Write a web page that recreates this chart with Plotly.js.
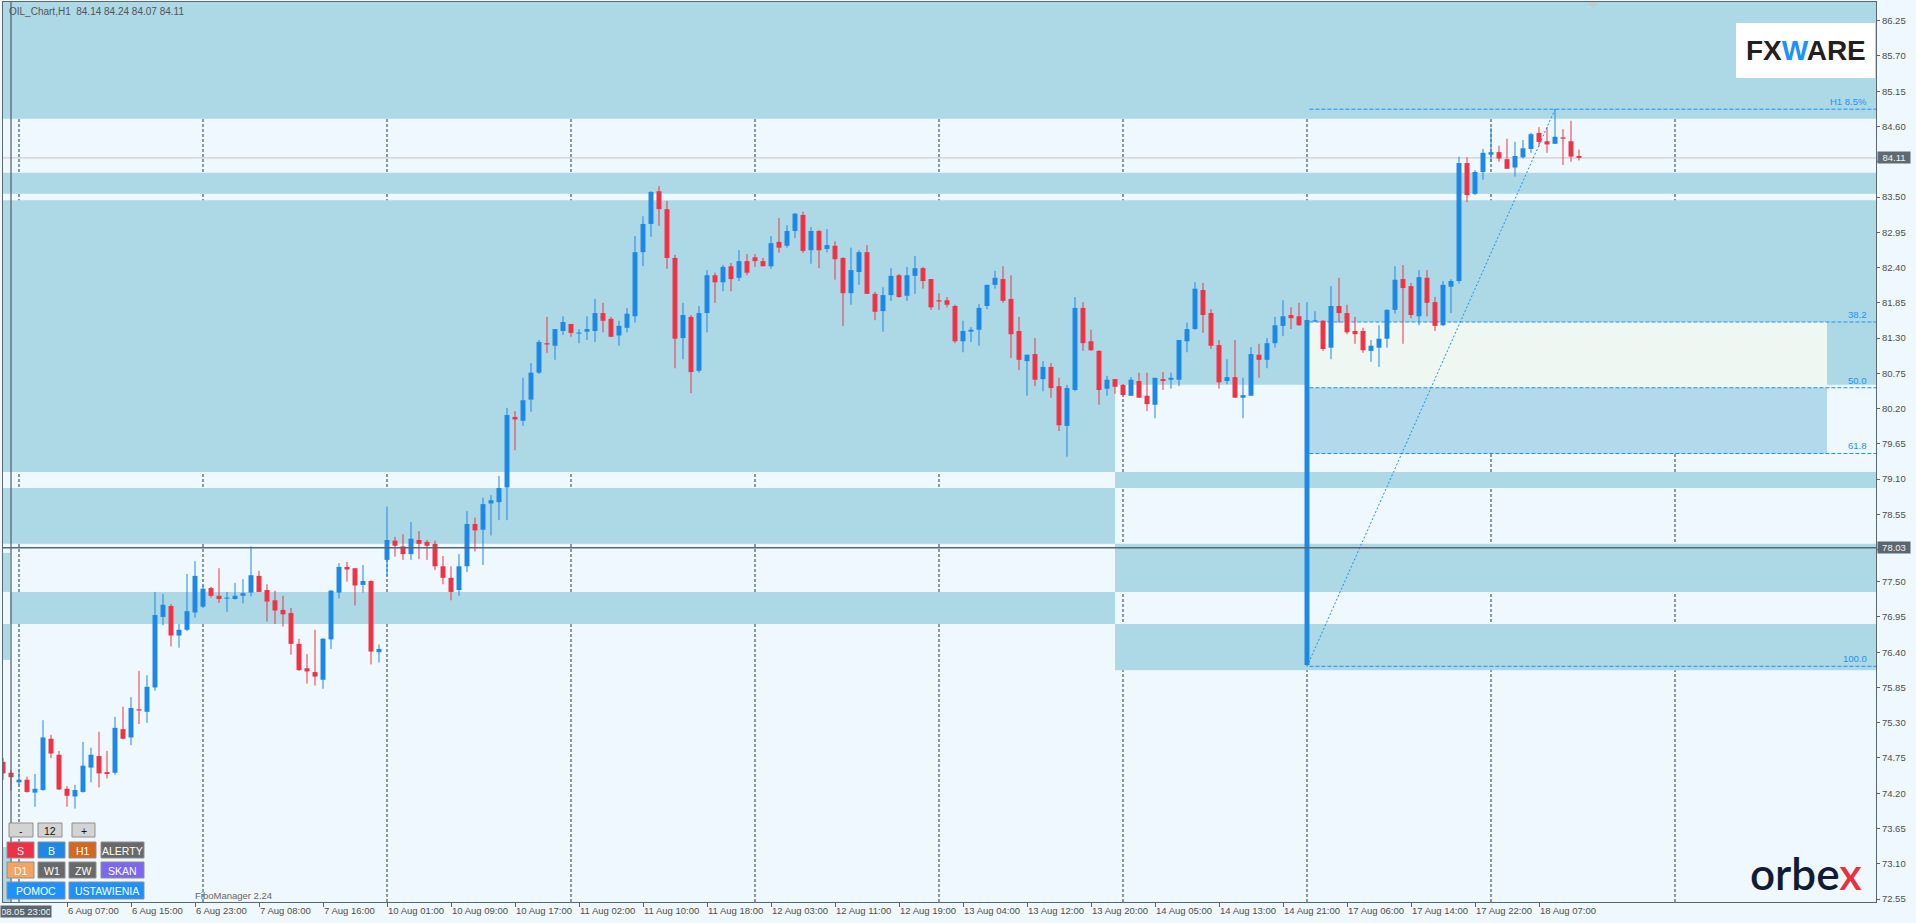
<!DOCTYPE html>
<html>
<head>
<meta charset="utf-8">
<script src="https://cdn.plot.ly/plotly-3.0.1.min.js"></script>
<style>
html,body{margin:0;padding:0;background:#F0F8FF;overflow:hidden;}
#chart{width:1916px;height:923px;}
</style>
</head>
<body>
<div id="chart"></div>
<script>
// ---------------- DATA: OIL H1 candles, bar numbers -1 .. 196 (bar 0 = 5 Aug 23:00) ----------------
const openP = [
74.69,74.52,74.37,74.41,74.21,74.25,75.05,74.80,74.27,74.15,
74.22,74.60,74.78,74.53,74.52,75.20,75.07,75.51,75.47,75.85,
76.95,77.12,76.66,76.75,77.02,77.11,77.40,77.28,77.235,77.23,
77.28,77.33,77.59,77.37,77.21,77.06,77.01,76.53,76.15,76.09,
75.97,76.60,77.33,77.73,77.71,77.45,77.51,76.40,77.84,78.14,
78.05,77.93,78.15,78.12,78.09,77.74,77.56,77.37,77.74,78.40,
78.31,78.72,78.74,78.97,80.07,80.01,80.34,80.76,81.22,81.18,
81.41,81.52,81.37,81.40,81.41,81.69,81.60,81.34,81.46,81.64,
82.64,83.08,83.59,83.31,82.55,81.30,81.63,80.79,81.69,82.28,
82.17,82.42,82.24,82.50,82.56,82.50,82.42,82.80,82.74,82.97,
83.22,82.67,82.97,82.69,82.74,82.55,82.00,82.33,82.64,81.99,
81.72,81.97,82.28,81.96,82.27,82.39,82.22,81.89,81.89,81.80,
81.25,81.40,81.43,81.80,82.13,82.22,81.91,81.41,80.94,81.05,
80.66,80.85,80.55,79.93,80.49,81.77,81.25,81.10,80.51,80.66,
80.57,80.40,80.63,80.40,80.26,80.66,80.65,80.65,81.25,81.44,
82.05,81.69,81.19,80.63,80.69,80.37,80.40,81.04,80.96,81.22,
81.49,81.66,81.64,76.20,81.56,81.57,81.15,81.80,81.69,81.41,
81.41,81.10,81.15,81.29,81.74,82.22,82.11,81.64,82.24,81.86,
81.50,82.10,82.19,84.03,83.55,83.89,84.16,84.20,84.09,83.96,
84.12,84.25,84.50,84.37,84.33,84.43,84.37,84.14];
const highP = [
74.75,74.56,74.56,74.46,74.50,75.34,75.11,74.86,74.31,74.33,
75.00,74.91,75.16,74.86,75.39,75.55,75.70,76.11,76.04,77.34,
77.31,77.15,76.84,77.62,77.82,77.45,77.42,77.71,77.34,77.48,
77.54,78.05,77.67,77.46,77.36,77.28,77.09,76.61,76.37,76.75,
76.62,77.37,77.79,77.81,77.71,77.76,77.52,76.52,78.67,78.20,
78.24,78.43,78.29,78.15,78.14,77.90,77.74,77.93,78.60,78.50,
78.81,78.85,79.15,80.21,80.16,80.68,80.91,81.27,81.63,81.44,
81.64,81.52,81.44,81.64,81.91,81.85,81.63,81.57,81.77,82.89,
83.20,83.59,83.67,83.44,82.60,81.85,81.66,81.80,82.36,82.32,
82.44,82.47,82.67,82.61,82.61,82.55,82.89,83.17,83.06,83.25,
83.27,83.03,82.99,83.00,82.81,82.56,82.71,82.67,82.75,82.02,
82.09,82.39,82.30,82.41,82.58,82.41,82.22,82.00,81.94,81.82,
81.57,81.47,81.83,82.13,82.35,82.42,82.28,81.63,81.04,81.30,
80.94,80.91,80.68,80.57,81.94,81.86,81.43,81.11,80.71,80.66,
80.58,80.69,80.76,80.76,80.68,80.77,80.76,81.27,81.54,82.17,
82.16,81.75,81.27,80.97,81.27,80.68,81.16,81.21,81.30,81.63,
81.89,81.78,81.85,81.86,81.72,81.58,82.11,82.24,81.82,81.63,
81.46,81.27,81.50,81.75,82.42,82.44,82.16,82.36,82.36,81.94,
82.19,82.22,84.13,84.12,83.92,84.25,84.58,84.30,84.41,84.36,
84.39,84.50,84.59,84.59,84.87,84.56,84.69,84.24];
const lowP = [
74.41,74.24,74.33,74.21,73.99,74.24,74.75,74.25,73.99,73.96,
74.21,74.37,74.29,74.43,74.49,75.04,74.95,75.28,75.30,75.80,
76.82,76.49,76.47,76.73,76.94,77.09,77.25,77.17,77.03,77.22,
77.16,77.27,77.34,76.88,76.84,76.80,76.36,76.11,75.91,75.88,
75.83,76.45,77.24,77.50,77.13,77.33,76.21,76.24,77.59,77.89,
77.84,77.84,77.85,77.84,77.68,77.46,77.21,77.28,77.65,77.97,
77.76,78.22,78.46,78.46,79.55,79.93,80.15,80.74,81.07,80.96,
81.35,81.32,81.22,81.27,81.24,81.39,81.32,81.18,81.39,81.54,
82.42,82.88,83.05,82.38,80.83,80.97,80.44,80.76,81.39,81.85,
82.03,82.03,82.19,82.28,82.41,82.42,82.38,82.63,82.71,82.86,
82.63,82.46,82.39,82.64,82.21,81.49,81.82,82.13,81.99,81.58,
81.40,81.88,81.93,81.88,81.99,82.07,81.74,81.74,81.78,81.22,
81.08,81.24,81.18,81.75,82.07,81.85,80.99,80.80,80.40,80.55,
80.47,80.37,79.85,79.45,80.47,81.10,81.10,80.26,80.40,80.43,
80.41,80.40,80.37,80.16,80.05,80.49,80.51,80.55,81.08,81.43,
81.38,81.13,80.51,80.58,80.37,80.05,80.40,80.68,80.83,81.15,
81.33,81.44,81.49,76.18,81.55,81.10,80.97,81.54,81.36,81.21,
81.07,80.93,80.85,81.15,81.68,81.21,81.61,81.50,81.64,81.41,
81.49,81.69,82.15,83.42,83.53,83.77,84.05,84.05,83.94,83.82,
84.10,84.19,84.29,84.19,84.33,84.00,84.05,84.07];
const closeP = [
74.51,74.45,74.41,74.22,74.27,75.07,74.82,74.26,74.16,74.25,
74.63,74.80,74.51,74.50,75.22,75.05,75.53,75.49,75.86,76.98,
77.14,76.66,76.75,77.04,77.59,77.39,77.28,77.23,77.245,77.28,
77.32,77.60,77.34,77.19,77.05,76.99,76.53,76.12,76.10,76.02,
76.61,77.36,77.73,77.69,77.44,77.51,76.41,76.45,78.15,78.06,
77.93,78.17,78.09,78.06,77.74,77.56,77.34,77.74,78.40,78.30,
78.71,78.77,78.96,80.10,80.03,80.33,80.76,81.24,81.20,81.44,
81.55,81.38,81.38,81.44,81.69,81.57,81.32,81.49,81.68,82.64,
83.08,83.58,83.31,82.55,81.29,81.66,80.77,81.69,82.28,82.17,
82.41,82.22,82.50,82.32,82.50,82.42,82.78,82.71,82.97,83.24,
82.66,82.97,82.67,82.75,82.53,82.00,82.36,82.64,81.99,81.71,
81.97,82.27,81.94,82.28,82.39,82.19,81.78,81.87,81.82,81.25,
81.41,81.43,81.77,82.13,82.24,81.88,81.36,80.96,81.04,80.65,
80.85,80.52,79.94,80.52,81.77,81.22,81.11,80.49,80.65,80.54,
80.41,80.65,80.37,80.27,80.68,80.63,80.68,81.27,81.44,82.07,
81.66,81.18,80.61,80.69,80.37,80.41,81.05,80.96,81.22,81.50,
81.64,81.61,81.50,81.58,81.57,81.13,81.80,81.69,81.39,81.36,
81.11,81.18,81.29,81.74,82.21,82.08,81.66,82.25,81.85,81.49,
82.13,82.19,84.03,83.53,83.89,84.19,84.20,84.10,83.94,84.14,
84.26,84.48,84.36,84.32,84.44,84.41,84.13,84.11];
const firstBar = -1;

// time axis labels (bar number -> label)
const timeTickBars = [7,15,23,31,39,47,55,63,71,79,87,95,103,111,119,127,135,143,151,159,167,175,183,191];
const timeTickLabels = ["6 Aug 07:00","6 Aug 15:00","6 Aug 23:00","7 Aug 08:00","7 Aug 16:00","10 Aug 01:00",
 "10 Aug 09:00","10 Aug 17:00","11 Aug 02:00","11 Aug 10:00","11 Aug 18:00","12 Aug 03:00","12 Aug 11:00",
 "12 Aug 19:00","13 Aug 04:00","13 Aug 12:00","13 Aug 20:00","14 Aug 05:00","14 Aug 13:00","14 Aug 21:00",
 "17 Aug 06:00","17 Aug 14:00","17 Aug 22:00","18 Aug 07:00"];
const gridBars = [1,24,47,70,93,116,139,162,185,208];

// price axis labels (84.05 and 78.00 sit under the price boxes)
const priceTicks = [86.25,85.70,85.15,84.60,84.05,83.50,82.95,82.40,81.85,81.30,80.75,80.20,79.65,79.10,
 78.55,78.00,77.50,76.95,76.40,75.85,75.30,74.75,74.20,73.65,73.10,72.55];
const hiddenPriceTicks = [84.05, 78.00];

// supply / demand zones (price low, price high, from bar, to bar)
const zoneLow   = [84.72, 83.55, 79.21, 80.57, 78.09, 76.84, 78.96, 77.34, 76.12, 77.34, 76.28, 72.40];
const zoneHigh  = [86.70, 83.88, 83.45, 83.45, 78.96, 77.34, 79.21, 78.09, 76.84, 77.95, 76.84, 73.36];
const zoneFrom  = [-2, -2, -2, 138, -2, -0.1, 138, 138, 138, -2, -2, -2];
const zoneTo    = [240, 240, 138, 240, 138, 138, 240, 240, 240, -0.1, -0.1, -0.1];

// Fibonacci retracement (anchor bars)
const fibLowBar = 162, fibHighBar = 193, fibZoneEndBar = 227;
const fibLevels = [0, 38.2, 50, 61.8, 100];
const fibLabels = ["H1 8.5%", "38.2", "50.0", "61.8", "100.0"];

const currentPrice = 84.11;
const crosshairPrice = 78.03, crosshairBar = 0, crosshairTime = "08.05 23:00";

// ---------------- DRAWING ----------------
const W = 1916, H = 923, ML = 3, MR = 40, MT = 2, MB = 21;
const PW = W - ML - MR, PH = H - MT - MB;
const X_MIN = -1, X_MAX = X_MIN + PW / 8;
const Y_MAX = 86.542, Y_MIN = Y_MAX - PH / 64.11;
const px = v => (v - ML) / PW;           // pixel -> paper x
const py = v => 1 - (v - MT) / PH;       // pixel -> paper y

const BLUE = '#1E88E5', RED = '#EE3445';
const bars = openP.map((_, k) => k + firstBar);
const up = openP.map((o, k) => closeP[k] >= o);

const bodyBase = openP.map((o, k) => Math.min(o, closeP[k]));
const bodyLen = openP.map((o, k) => Math.max(Math.abs(closeP[k] - o), 0.017));
const bodyColor = up.map(u => u ? BLUE : RED);

function wickTrace(isUp) {
  const x = [], y = [];
  bars.forEach((b, k) => {
    if (up[k] === isUp) { x.push(b, b, null); y.push(lowP[k], highP[k], null); }
  });
  return {type: 'scatter', mode: 'lines', x, y, line: {color: isUp ? BLUE : RED, width: 1},
          hoverinfo: 'skip', showlegend: false};
}

const traces = [
  wickTrace(true), wickTrace(false),
  {type: 'bar', x: bars, y: bodyLen, base: bodyBase, width: 0.62,
   marker: {color: bodyColor, line: {width: 0}}, hoverinfo: 'skip', showlegend: false}
];

const shapes = [];
zoneLow.forEach((lo, k) => {
  shapes.push({type: 'rect', layer: 'below', xref: 'x', yref: 'y', x0: zoneFrom[k], x1: zoneTo[k],
    y0: lo, y1: zoneHigh[k], fillcolor: '#ADD8E6', line: {width: 0}});
});
const fHigh = highP[fibHighBar - firstBar], fLow = lowP[fibLowBar - firstBar];
const fibPrice = fibLevels.map(l => fHigh - (fHigh - fLow) * l / 100);
shapes.push({type: 'rect', layer: 'below', x0: fibLowBar, x1: fibZoneEndBar, y0: fibPrice[2], y1: fibPrice[1],
  fillcolor: '#EEF7F1', line: {width: 0}});
shapes.push({type: 'rect', layer: 'below', x0: fibLowBar, x1: fibZoneEndBar, y0: fibPrice[3], y1: fibPrice[2],
  fillcolor: '#B3DAEC', line: {width: 0}});
gridBars.forEach(b => shapes.push({type: 'line', layer: 'below', xref: 'x', yref: 'paper', x0: b, x1: b,
  y0: 0, y1: 1, line: {color: '#1f3f60', width: 1, dash: '3px,2px'}}));
shapes.push({type: 'line', layer: 'below', xref: 'paper', yref: 'y', x0: 0, x1: 1, y0: currentPrice, y1: currentPrice,
  line: {color: '#C4C4C4', width: 1}});
fibPrice.forEach(p => shapes.push({type: 'line', layer: 'below', xref: 'x', yref: 'y', x0: fibLowBar + 0.3, x1: X_MAX,
  y0: p, y1: p, line: {color: '#1E90FF', width: 1, dash: '4px,2px'}}));
shapes.push({type: 'line', layer: 'below', x0: fibLowBar, y0: fLow, x1: fibHighBar, y1: fHigh,
  line: {color: '#1E90FF', width: 1, dash: '2px,2px'}});
shapes.push({type: 'line', layer: 'above', xref: 'paper', yref: 'y', x0: 0, x1: 1, y0: crosshairPrice, y1: crosshairPrice,
  line: {color: '#5B6770', width: 1.5}});
shapes.push({type: 'line', layer: 'above', xref: 'x', yref: 'paper', x0: crosshairBar, x1: crosshairBar, y0: 0, y1: 1,
  line: {color: '#5B6770', width: 1.3}});
shapes.push({type: 'path', layer: 'above', xref: 'paper', yref: 'paper',
  path: `M ${px(1588)},${py(3)} L ${px(1598)},${py(3)} L ${px(1593)},${py(8)} Z`, fillcolor: '#C8C8C8', line: {width: 0}});
shapes.push({type: 'rect', layer: 'above', xref: 'paper', yref: 'paper', x0: px(1736), x1: px(1875),
  y0: py(78), y1: py(23), fillcolor: '#FFFFFF', line: {width: 0}});

const buttons = [
  ['-', 9, 33, 823, 837, '#D3D3D3', '#111'], ['12', 38, 62, 823, 837, '#D3D3D3', '#111'], ['+', 72, 95, 823, 837, '#D3D3D3', '#111'],
  ['S', 7, 34, 842, 858, '#EE3048', '#fff'], ['B', 38, 65, 842, 858, '#1E88E5', '#fff'], ['H1', 69, 96, 842, 858, '#D2691E', '#fff'],
  ['ALERTY', 101, 144, 842, 858, '#696969', '#fff'],
  ['D1', 7, 34, 862, 878, '#F4A460', '#fff'], ['W1', 38, 65, 862, 878, '#696969', '#fff'], ['ZW', 69, 96, 862, 878, '#696969', '#fff'],
  ['SKAN', 101, 144, 862, 878, '#7B68EE', '#fff'],
  ['POMOC', 7, 65, 882, 899, '#1E90FF', '#fff'], ['USTAWIENIA', 69, 144, 882, 899, '#1E90FF', '#fff']
];
const annotations = [];
buttons.forEach(b => {
  shapes.push({type: 'rect', layer: 'above', xref: 'paper', yref: 'paper', x0: px(b[1]), x1: px(b[2]),
    y0: py(b[4]), y1: py(b[3]), fillcolor: b[5], line: {color: '#8F8F8F', width: 1}});
  annotations.push({xref: 'paper', yref: 'paper', x: px((b[1] + b[2]) / 2), y: py((b[3] + b[4]) / 2 + 0.5),
    text: b[0], showarrow: false, xanchor: 'center', yanchor: 'middle',
    font: {family: 'Liberation Sans, Arial, sans-serif', size: 10.5, color: b[6]}});
});

const FONT = 'Liberation Sans, Arial, sans-serif';
const last = openP.length - 1;
annotations.push({xref: 'paper', yref: 'paper', x: px(7), y: py(11), xanchor: 'left', yanchor: 'middle', showarrow: false,
  text: `OIL_Chart,H1\u00a0\u00a0${openP[last].toFixed(2)} ${highP[last].toFixed(2)} ${lowP[last].toFixed(2)} ${closeP[last].toFixed(2)}`,
  font: {family: FONT, size: 10, color: '#555'}});
fibPrice.forEach((p, k) => annotations.push({xref: 'x', yref: 'y', x: 232.3, y: p, xanchor: 'right', yanchor: 'bottom',
  text: fibLabels[k], showarrow: false, font: {family: FONT, size: 9.5, color: '#1E90FF'}}));
annotations.push({xref: 'paper', yref: 'paper', x: px(1805.5), y: py(51), xanchor: 'center', yanchor: 'middle', showarrow: false,
  text: 'FX<span style="color:#1E90FF">W</span>ARE', font: {family: 'Liberation Sans, Arial, sans-serif', size: 28, weight: 700, color: '#231F20'}});
annotations.push({xref: 'paper', yref: 'paper', x: px(1806), y: py(873), xanchor: 'center', yanchor: 'middle', showarrow: false,
  text: 'orbe<span style="color:#E8313F">x</span>', font: {family: 'Lato, Roboto, sans-serif', size: 44, weight: 600, color: '#0F1C33'}});
annotations.push({xref: 'paper', yref: 'paper', x: px(193), y: py(895), xanchor: 'left', yanchor: 'middle', showarrow: false,
  text: 'FiboManager 2.24', font: {family: FONT, size: 9.5, color: '#666'}});
annotations.push({xref: 'paper', yref: 'y', x: px(1877), y: currentPrice, xanchor: 'left', yanchor: 'middle', showarrow: false,
  text: currentPrice.toFixed(2), bgcolor: '#5F6B73', borderpad: 1, width: 30, height: 9,
  font: {family: FONT, size: 9.5, color: '#F2F2F2'}});
annotations.push({xref: 'paper', yref: 'y', x: px(1877), y: crosshairPrice, xanchor: 'left', yanchor: 'middle', showarrow: false,
  text: crosshairPrice.toFixed(2), bgcolor: '#5B6770', borderpad: 1, width: 30, height: 9,
  font: {family: FONT, size: 9.5, color: '#F2F2F2'}});
annotations.push({xref: 'paper', yref: 'paper', x: px(0), y: py(911.5), xanchor: 'left', yanchor: 'middle', showarrow: false,
  text: crosshairTime, bgcolor: '#5B6770', borderpad: 1, width: 48, height: 9,
  font: {family: FONT, size: 9.5, color: '#F2F2F2'}});

const layout = {
  width: W, height: H,
  margin: {l: ML, r: MR, t: MT, b: MB, pad: 0},
  paper_bgcolor: '#F0F8FF', plot_bgcolor: '#F0F8FF',
  showlegend: false, barmode: 'overlay', dragmode: false,
  font: {family: FONT, size: 9.5, color: '#4D4D4D'},
  xaxis: {range: [X_MIN, X_MAX], showgrid: false, zeroline: false, showline: true, mirror: true,
    linecolor: '#5B6770', linewidth: 1, ticks: 'outside', ticklen: 4, tickcolor: '#5B6770',
    tickvals: timeTickBars, ticktext: timeTickLabels, ticklabelposition: 'outside right', tickangle: 0,
    tickfont: {family: FONT, size: 9.5, color: '#4D4D4D'}, fixedrange: true},
  yaxis: {range: [Y_MIN, Y_MAX], side: 'right', showgrid: false, zeroline: false, showline: true, mirror: true,
    linecolor: '#5B6770', linewidth: 1, ticks: 'outside', ticklen: 3, tickcolor: '#5B6770',
    tickvals: priceTicks, ticktext: priceTicks.map(v => hiddenPriceTicks.includes(v) ? '' : v.toFixed(2)),
    tickfont: {family: FONT, size: 9.5, color: '#4D4D4D'}, fixedrange: true},
  shapes, annotations
};

Plotly.newPlot('chart', traces, layout, {staticPlot: true, displayModeBar: false});
</script>
</body>
</html>
